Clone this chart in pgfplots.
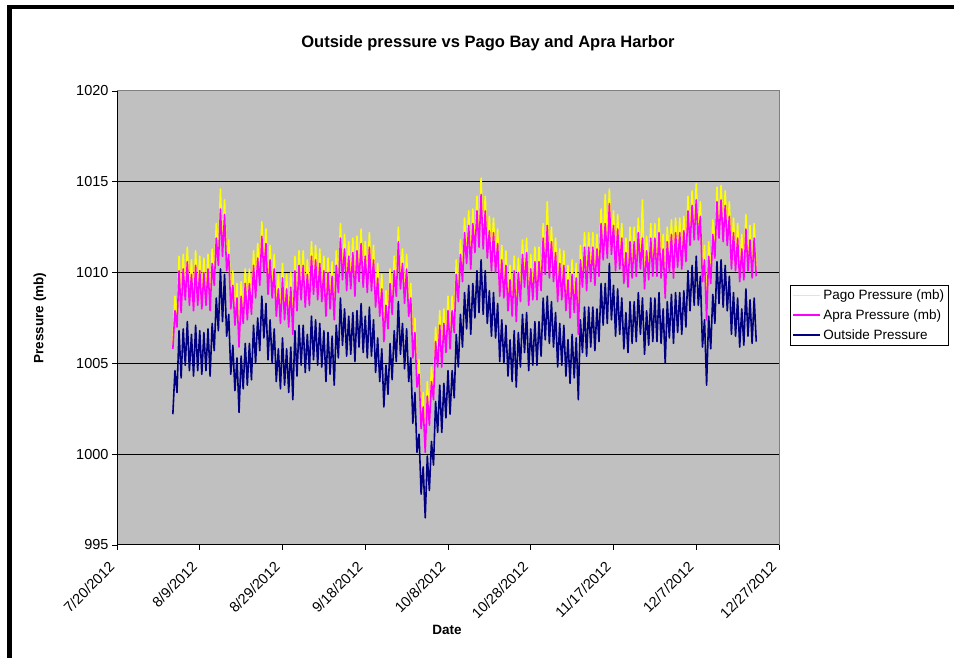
\documentclass[border=0pt]{standalone}
\usepackage{fontspec}
\setmainfont{Liberation Sans}
\usepackage{pgfplots}
\usepackage{pgfplotstable}
\pgfplotsset{compat=1.18}

\definecolor{plotgray}{HTML}{C0C0C0}
\definecolor{pago}{HTML}{FFFF00}
\definecolor{apra}{HTML}{FF00FF}
\definecolor{outside}{HTML}{000080}

% day = days after 7/20/2012, pressures in mb
\pgfplotstableread{
day out apra pago
13.5 1002.2 1005.8 1006.1
14.0 1004.6 1007.9 1008.7
14.5 1003.4 1007.0 1007.3
15.0 1006.8 1010.1 1010.9
15.5 1004.2 1007.8 1008.1
16.0 1006.9 1010.2 1011.0
16.5 1004.9 1008.5 1008.8
17.0 1007.3 1010.6 1011.4
17.5 1004.6 1008.2 1008.5
18.0 1006.6 1009.9 1010.7
18.5 1004.3 1007.9 1008.2
19.0 1007.1 1010.4 1011.2
19.5 1004.6 1008.2 1008.5
20.0 1006.8 1010.1 1010.9
20.5 1004.4 1008.0 1008.3
21.0 1006.7 1010.0 1010.8
21.5 1004.6 1008.2 1008.5
22.0 1006.9 1010.2 1011.0
22.5 1004.3 1007.9 1008.2
23.0 1007.2 1010.5 1011.3
23.5 1005.7 1009.3 1009.6
24.0 1008.6 1011.9 1012.7
24.5 1006.8 1010.4 1010.7
25.0 1010.2 1013.5 1014.6
25.5 1007.3 1010.9 1011.2
26.0 1009.9 1013.2 1014.0
26.5 1006.5 1010.1 1010.4
27.0 1007.7 1011.0 1011.8
27.5 1004.4 1008.0 1008.3
28.0 1006.0 1009.3 1010.1
28.5 1003.5 1007.1 1007.4
29.0 1005.3 1008.6 1009.4
29.5 1002.3 1005.9 1006.2
30.0 1005.4 1008.7 1009.5
30.5 1003.6 1007.2 1007.5
31.0 1006.1 1009.4 1010.2
31.5 1003.8 1007.4 1007.7
32.0 1006.1 1009.4 1010.2
32.5 1004.1 1007.7 1008.0
33.0 1007.1 1010.4 1011.2
33.5 1005.0 1008.6 1008.9
34.0 1007.5 1010.8 1011.6
34.5 1005.7 1009.3 1009.6
35.0 1008.7 1012.0 1012.8
35.5 1006.4 1010.0 1010.3
36.0 1008.3 1011.6 1012.4
36.5 1005.2 1008.8 1009.1
37.0 1007.4 1010.7 1011.5
37.5 1005.0 1008.6 1008.9
38.0 1006.9 1010.2 1011.0
38.5 1004.0 1007.6 1007.9
39.0 1005.8 1009.1 1009.9
39.5 1003.6 1007.2 1007.5
40.0 1006.4 1009.7 1010.5
40.5 1003.8 1007.4 1007.7
41.0 1005.8 1009.1 1009.9
41.5 1003.4 1007.0 1007.3
42.0 1005.9 1009.2 1010.0
42.5 1003.0 1006.6 1006.9
43.0 1006.8 1010.1 1010.9
43.5 1004.3 1007.9 1008.2
44.0 1007.1 1010.4 1011.2
44.5 1004.9 1008.5 1008.8
45.0 1007.1 1010.4 1011.2
45.5 1004.5 1008.1 1008.4
46.0 1006.6 1009.9 1010.7
46.5 1004.6 1008.2 1008.5
47.0 1007.6 1010.9 1011.7
47.5 1005.2 1008.8 1009.1
48.0 1007.4 1010.7 1011.5
48.5 1004.9 1008.5 1008.8
49.0 1007.2 1010.5 1011.3
49.5 1004.8 1008.4 1008.7
50.0 1006.8 1010.1 1010.9
50.5 1004.0 1007.6 1007.9
51.0 1006.7 1010.0 1010.8
51.5 1004.4 1008.0 1008.3
52.0 1006.5 1009.8 1010.6
52.5 1003.8 1007.4 1007.7
53.0 1007.1 1010.4 1011.2
53.5 1005.3 1008.9 1009.2
54.0 1008.6 1011.9 1012.7
54.5 1006.0 1009.6 1009.9
55.0 1008.0 1011.3 1012.1
55.5 1005.4 1009.0 1009.3
56.0 1007.6 1010.9 1011.7
56.5 1005.5 1009.1 1009.4
57.0 1007.8 1011.1 1011.9
57.5 1005.1 1008.7 1009.0
58.0 1007.9 1011.2 1012.0
58.5 1005.9 1009.5 1009.8
59.0 1008.3 1011.6 1012.4
59.5 1005.6 1009.2 1009.5
60.0 1007.6 1010.9 1011.7
60.5 1005.3 1008.9 1009.2
61.0 1008.1 1011.4 1012.2
61.5 1005.4 1009.0 1009.3
62.0 1007.4 1010.7 1011.5
62.5 1004.5 1008.1 1008.4
63.0 1006.4 1009.7 1010.5
63.5 1004.0 1007.6 1007.9
64.0 1005.8 1009.1 1009.9
64.5 1002.6 1006.2 1006.5
65.0 1004.9 1008.2 1009.0
65.5 1003.3 1006.9 1007.2
66.0 1006.1 1009.4 1010.2
66.5 1004.1 1007.7 1008.0
67.0 1006.8 1010.1 1010.9
67.5 1005.1 1008.7 1009.0
68.0 1008.4 1011.7 1012.5
68.5 1005.5 1009.1 1009.4
69.0 1007.2 1010.5 1011.3
69.5 1004.7 1008.3 1008.6
70.0 1006.9 1010.2 1011.0
70.5 1004.0 1007.6 1007.9
71.0 1005.3 1008.6 1009.4
71.5 1001.7 1005.3 1005.6
72.0 1003.4 1006.7 1007.5
72.5 1000.1 1003.7 1004.0
73.0 1001.1 1004.4 1005.2
73.5 997.8 1001.4 1001.7
74.0 999.3 1002.6 1003.4
74.5 996.5 1000.1 1000.4
75.0 999.9 1003.2 1004.0
75.5 998.0 1001.6 1001.9
76.0 1000.7 1004.0 1004.8
76.5 999.4 1003.0 1003.3
77.0 1002.9 1006.2 1007.0
77.5 1001.2 1004.8 1005.1
78.0 1003.8 1007.1 1007.9
78.5 1001.2 1004.8 1005.1
79.0 1003.9 1007.2 1008.0
79.5 1002.0 1005.6 1005.9
80.0 1004.6 1007.9 1008.7
80.5 1002.2 1005.8 1006.1
81.0 1004.6 1007.9 1008.7
81.5 1003.1 1006.7 1007.0
82.0 1006.6 1009.9 1010.7
82.5 1004.8 1008.4 1008.7
83.0 1007.7 1011.0 1011.8
83.5 1005.9 1009.5 1009.8
84.0 1008.9 1012.2 1013.0
84.5 1006.9 1010.5 1010.8
85.0 1009.3 1012.6 1013.4
85.5 1006.6 1010.2 1010.5
86.0 1009.4 1012.7 1013.5
86.5 1007.5 1011.1 1011.4
87.0 1010.1 1013.4 1014.2
87.5 1007.8 1011.4 1011.7
88.0 1010.7 1014.3 1015.2
88.5 1007.7 1011.3 1011.6
89.0 1010.1 1013.4 1014.2
89.5 1007.2 1010.8 1011.1
90.0 1009.0 1012.3 1013.1
90.5 1006.5 1010.1 1010.4
91.0 1008.9 1012.2 1013.0
91.5 1006.4 1010.0 1010.3
92.0 1008.3 1011.6 1012.4
92.5 1005.1 1008.7 1009.0
93.0 1007.4 1010.7 1011.5
93.5 1005.0 1008.6 1008.9
94.0 1007.1 1010.4 1011.2
94.5 1004.3 1007.9 1008.2
95.0 1006.3 1009.6 1010.4
95.5 1004.0 1007.6 1007.9
96.0 1006.8 1010.1 1010.9
96.5 1003.7 1007.3 1007.6
97.0 1006.7 1010.0 1010.8
97.5 1004.8 1008.4 1008.7
98.0 1007.7 1011.0 1011.8
98.5 1005.6 1009.2 1009.5
99.0 1007.8 1011.1 1011.9
99.5 1004.6 1008.2 1008.5
100.0 1006.9 1010.2 1011.0
100.5 1004.9 1008.5 1008.8
101.0 1007.3 1010.6 1011.4
101.5 1004.9 1008.5 1008.8
102.0 1007.3 1010.6 1011.4
102.5 1005.4 1009.0 1009.3
103.0 1008.6 1011.9 1012.7
103.5 1006.3 1009.9 1010.2
104.0 1008.7 1012.6 1013.9
104.5 1006.1 1009.7 1010.0
105.0 1008.4 1011.7 1012.5
105.5 1005.9 1009.5 1009.8
106.0 1007.8 1011.1 1011.9
106.5 1004.8 1008.4 1008.7
107.0 1007.2 1010.5 1011.3
107.5 1004.9 1008.5 1008.8
108.0 1007.1 1010.4 1011.2
108.5 1004.3 1007.9 1008.2
109.0 1006.3 1009.6 1010.4
109.5 1003.9 1007.5 1007.8
110.0 1006.6 1009.9 1010.7
110.5 1004.2 1007.8 1008.1
111.0 1006.4 1009.7 1010.5
111.5 1003.0 1006.6 1006.9
112.0 1007.4 1010.7 1011.5
112.5 1005.6 1009.2 1009.5
113.0 1008.1 1011.4 1012.2
113.5 1005.4 1009.0 1009.3
114.0 1008.1 1011.4 1012.2
114.5 1005.9 1009.5 1009.8
115.0 1008.1 1011.4 1012.2
115.5 1005.7 1009.3 1009.6
116.0 1008.0 1011.3 1012.1
116.5 1006.2 1009.8 1010.1
117.0 1009.4 1012.7 1013.5
117.5 1007.1 1010.7 1011.0
118.0 1009.4 1012.7 1014.3
118.5 1007.2 1010.8 1011.1
119.0 1010.5 1013.8 1014.6
119.5 1007.4 1011.0 1011.3
120.0 1009.3 1012.6 1013.4
120.5 1006.5 1010.1 1010.4
121.0 1009.1 1012.4 1013.2
121.5 1006.6 1010.2 1010.5
122.0 1008.6 1011.9 1012.7
122.5 1005.8 1009.4 1009.7
123.0 1007.8 1011.1 1011.9
123.5 1005.6 1009.2 1009.5
124.0 1008.4 1011.7 1012.5
124.5 1006.1 1009.7 1010.0
125.0 1008.4 1011.7 1012.5
125.5 1006.2 1009.8 1010.1
126.0 1008.9 1012.2 1013.0
126.5 1006.6 1010.2 1010.5
127.0 1008.6 1011.9 1014.0
127.5 1005.5 1009.1 1009.4
128.0 1007.9 1011.2 1012.0
128.5 1006.0 1009.6 1009.9
129.0 1008.6 1011.9 1012.7
129.5 1006.2 1009.8 1010.1
130.0 1008.6 1011.9 1012.7
130.5 1006.2 1009.8 1010.1
131.0 1008.9 1012.2 1013.0
131.5 1006.1 1009.7 1010.0
132.0 1008.0 1011.3 1012.1
132.5 1005.0 1008.6 1008.9
133.0 1008.4 1011.7 1012.5
133.5 1006.4 1010.0 1010.3
134.0 1008.8 1012.1 1012.9
134.5 1006.1 1009.7 1010.0
135.0 1008.9 1012.2 1013.0
135.5 1006.7 1010.3 1010.6
136.0 1008.9 1012.2 1013.0
136.5 1006.6 1010.2 1010.5
137.0 1009.0 1012.3 1013.1
137.5 1007.0 1010.6 1010.9
138.0 1010.1 1013.4 1014.2
138.5 1007.9 1011.5 1011.8
139.0 1010.4 1013.7 1014.5
139.5 1008.2 1011.8 1012.1
140.0 1010.9 1014.0 1014.9
140.5 1008.2 1011.8 1012.1
141.0 1009.8 1013.1 1013.9
141.5 1005.9 1009.5 1009.8
142.0 1007.4 1010.7 1011.5
142.5 1003.8 1007.4 1007.7
143.0 1007.6 1010.9 1011.7
143.5 1005.8 1009.4 1009.7
144.0 1008.8 1012.1 1012.9
144.5 1007.2 1010.8 1011.1
145.0 1010.6 1013.9 1014.7
145.5 1008.3 1011.9 1012.2
146.0 1010.7 1014.0 1014.8
146.5 1008.1 1011.7 1012.0
147.0 1010.4 1013.7 1014.5
147.5 1007.9 1011.5 1011.8
148.0 1009.8 1013.1 1013.9
148.5 1006.6 1010.2 1010.5
149.0 1008.9 1012.2 1013.0
149.5 1006.5 1010.1 1010.4
150.0 1008.6 1011.9 1012.7
150.5 1005.9 1009.5 1009.8
151.0 1008.0 1011.3 1012.1
151.5 1006.0 1009.6 1009.9
152.0 1009.1 1012.4 1013.2
152.5 1006.5 1010.1 1010.4
153.0 1008.5 1011.8 1012.6
153.5 1006.1 1009.7 1010.0
154.0 1008.6 1011.9 1012.7
154.5 1006.2 1009.8 1010.1
}\pressure

\begin{document}
\begin{tikzpicture}[x=1pt,y=1pt]
\useasboundingbox (0,0) rectangle (954,658);
\fill[white] (0,0) rectangle (954,658);
\draw[line width=4.5pt] (9.5,-5) -- (9.5,651) -- (960,651);

\node[font=\bfseries\fontsize{16.5}{19}\selectfont] at (488,615) {Outside pressure vs Pago Bay and Apra Harbor};
\node[rotate=90, font=\bfseries\fontsize{13.5}{16}\selectfont] at (40,340) {Pressure (mb)};
\node[font=\bfseries\fontsize{13.5}{16}\selectfont] at (447,28) {Date};

\begin{axis}[
    at={(117pt,113pt)}, anchor=south west,
    scale only axis, width=662pt, height=454pt,
    xmin=0, xmax=160, ymin=995, ymax=1020,
    axis background/.style={fill=plotgray},
    axis line style={draw=gray, line width=1pt},
    xtick={0,20,...,160},
    xticklabels={7/20/2012,8/9/2012,8/29/2012,9/18/2012,10/8/2012,10/28/2012,11/17/2012,12/7/2012,12/27/2012},
    ytick={1000,1005,1010,1015},
    extra y ticks={995,1020},
    extra y tick style={grid=none},
    ymajorgrids,
    major grid style={black, line width=0.8pt},
    xtick pos=lower, ytick pos=left,
    tick align=outside, major tick length=5pt,
    tick style={black, line width=0.8pt},
    ticklabel style={font=\fontsize{14.5}{17}\selectfont},
    /pgf/number format/assume math mode=true,
    /pgf/number format/set thousands separator={},
    xticklabel style={xshift=-9pt, yshift=-9pt, rotate=45, anchor=north east, inner sep=1pt},
    no markers,
    legend style={at={(1.0166,0.5727)}, anchor=north west, draw=black, fill=white,
        font=\fontsize{13.5}{16}\selectfont, inner sep=2.5pt, row sep=4.5pt},
    legend cell align=left,
    legend image code/.code={\draw[#1, line width=1.6pt] (0pt,0pt) -- (27pt,0pt);},
]
\addplot[pago, line width=1.6pt, line join=round] table[x=day, y=pago] {\pressure};
\addlegendentry{Pago Pressure (mb)}
\addplot[apra, line width=1.6pt, line join=round] table[x=day, y=apra] {\pressure};
\addlegendentry{Apra Pressure (mb)}
\addplot[outside, line width=1.6pt, line join=round] table[x=day, y=out] {\pressure};
\addlegendentry{Outside Pressure}
\draw[black, line width=1pt] (rel axis cs:0,1) -- (rel axis cs:0,0) -- (rel axis cs:1,0);
\end{axis}
\end{tikzpicture}
\end{document}
